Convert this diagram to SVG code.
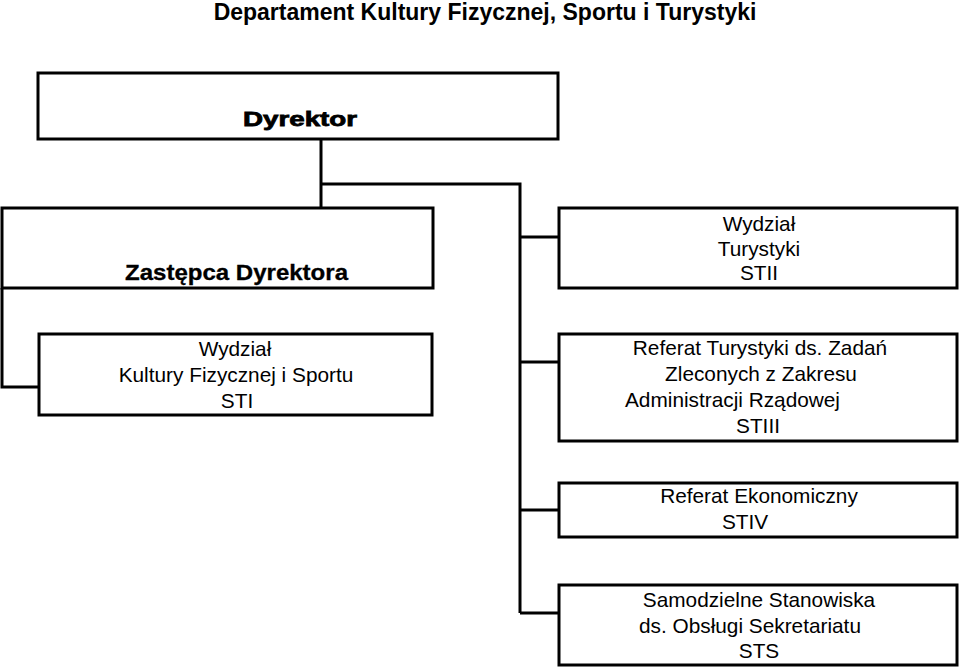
<svg xmlns="http://www.w3.org/2000/svg" width="960" height="669" viewBox="0 0 960 669">
<style>
.box{fill:#fff;stroke:#000;stroke-width:3}
.con{fill:none;stroke:#000;stroke-width:3}
text{font-family:"Liberation Sans",Arial,sans-serif;fill:#000}
.t{font-size:20.8px;text-anchor:middle}
.ts{font-size:20.8px}
</style>
<rect width="960" height="669" fill="#fff"/>
<text x="485" y="20" style="font-size:23px;font-weight:bold;text-anchor:middle">Departament Kultury Fizycznej, Sportu i Turystyki</text>
<g id="connectors">
<path class="con" d="M321 139V208"/>
<path class="con" d="M321 184H520V613"/>
<path class="con" d="M520 237H559M520 362H559M520 510H559M520 613H559"/>
<path class="con" d="M2 288V387H39"/>
</g>
<g id="dyrektor">
<rect class="box" x="38" y="73" width="520" height="66"/>
<text x="243" y="126" textLength="114" lengthAdjust="spacingAndGlyphs" style="font-size:20.5px;font-weight:bold;stroke:#000;stroke-width:0.8">Dyrektor</text>
</g>
<g id="zastepca">
<rect class="box" x="2" y="208" width="431" height="80"/>
<text x="125" y="280" textLength="223" lengthAdjust="spacingAndGlyphs" style="font-size:21.5px;font-weight:bold;stroke:#000;stroke-width:0.3">Zastępca Dyrektora</text>
</g>
<g id="sti">
<rect class="box" x="39" y="334" width="393" height="81"/>
<text class="t" x="235" y="356">Wydział</text>
<text class="t" x="236" y="382">Kultury Fizycznej i Sportu</text>
<text class="t" x="237" y="408">STI</text>
</g>
<g id="stii">
<rect class="box" x="559" y="208" width="398" height="80"/>
<text class="t" x="759" y="231">Wydział</text>
<text class="t" x="759" y="256">Turystyki</text>
<text class="t" x="759" y="280">STII</text>
</g>
<g id="stiii">
<rect class="box" x="559" y="334" width="398" height="107"/>
<text class="t" x="760" y="355">Referat Turystyki ds. Zadań</text>
<text class="t" x="761" y="381">Zleconych z Zakresu</text>
<text class="ts" x="625" y="407">Administracji Rządowej</text>
<text class="t" x="758" y="433">STIII</text>
</g>
<g id="stiv">
<rect class="box" x="559" y="483" width="398" height="54"/>
<text class="t" x="759" y="503">Referat Ekonomiczny</text>
<text class="t" x="745" y="529">STIV</text>
</g>
<g id="sts">
<rect class="box" x="559" y="585" width="398" height="80"/>
<text class="t" x="759" y="607">Samodzielne Stanowiska</text>
<text class="t" x="750" y="633">ds. Obsługi Sekretariatu</text>
<text class="t" x="759" y="658">STS</text>
</g>
</svg>
